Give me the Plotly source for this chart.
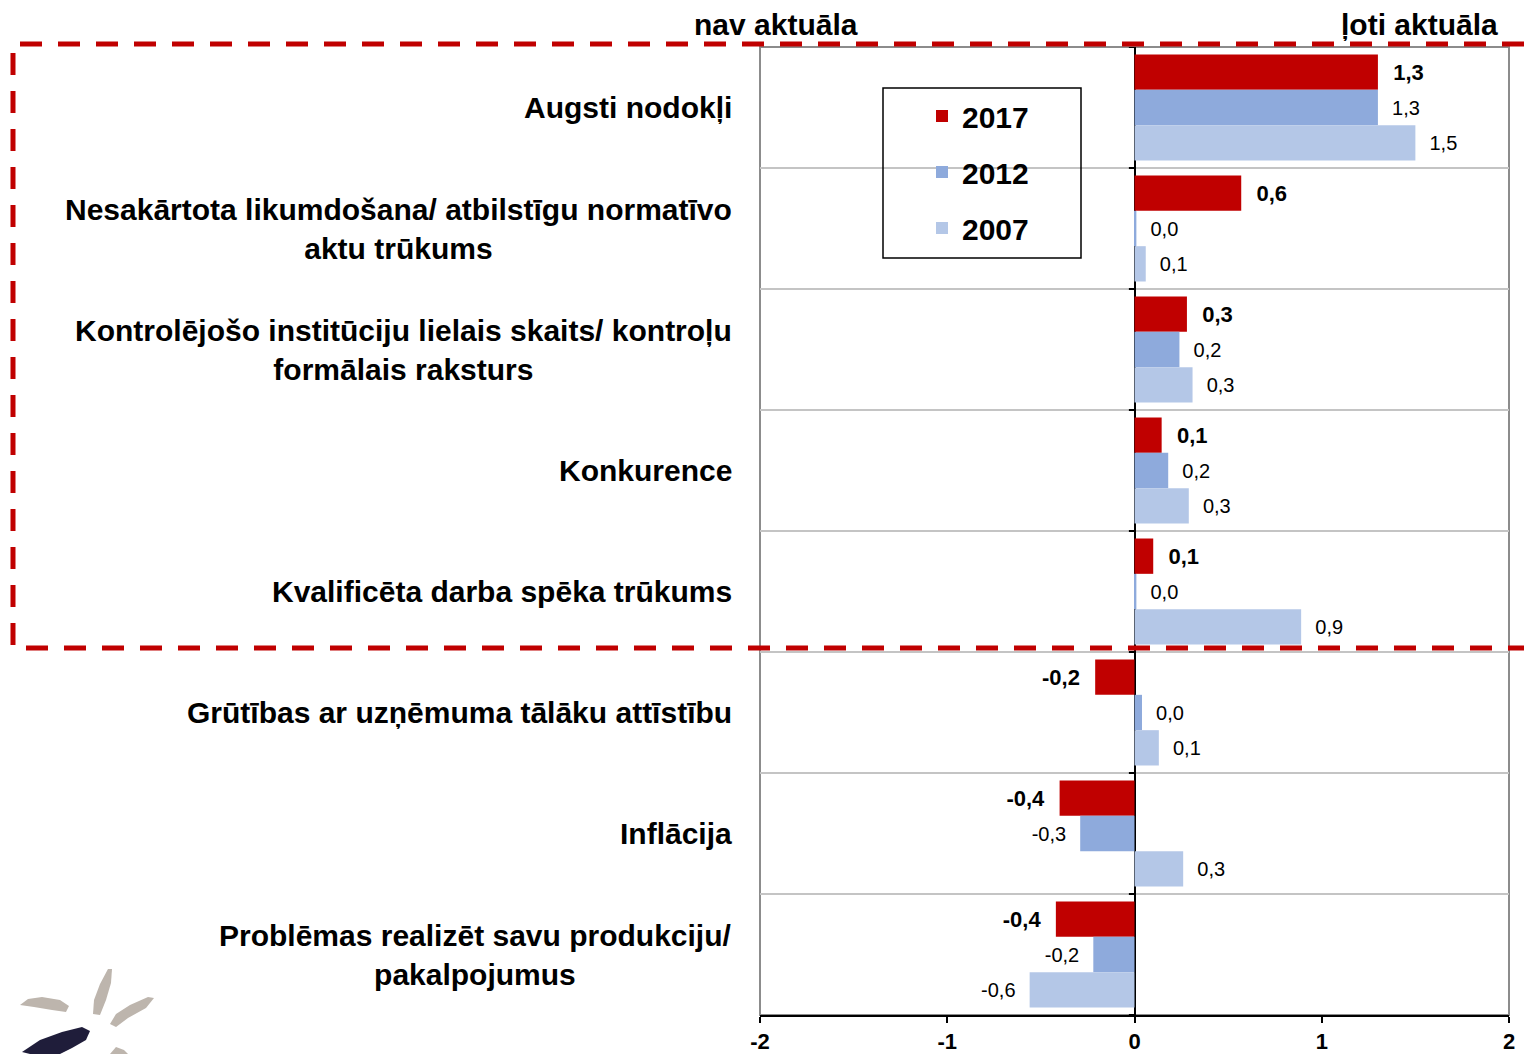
import plotly.graph_objects as go

categories = [
    "Augsti nodokļi",
    "Nesakārtota likumdošana/ atbilstīgu normatīvo<br>aktu trūkums",
    "Kontrolējošo institūciju lielais skaits/ kontroļu<br>formālais raksturs",
    "Konkurence",
    "Kvalificēta darba spēka trūkums",
    "Grūtības ar uzņēmuma tālāku attīstību",
    "Inflācija",
    "Problēmas realizēt savu produkciju/<br>pakalpojumus",
]
years = ["2017", "2012", "2007"]
v2017 = [1.30, 0.57, 0.28, 0.145, 0.10, -0.21, -0.40, -0.42]
v2012 = [1.30, 0.01, 0.24, 0.18, 0.01, 0.04, -0.29, -0.22]
v2007 = [1.50, 0.06, 0.31, 0.29, 0.89, 0.13, 0.26, -0.56]
x_ticks = [-2, -1, 0, 1, 2]
left_label = "nav aktuāla"
right_label = "ļoti aktuāla"

colors = ["#c00000", "#8eaadc", "#b4c7e7"]
FONT = "Liberation Sans, Arial, sans-serif"

W, H = 1525, 1054
L, R, T, B = 760, 16, 47, 39
PW, PH = W - L - R, H - T - B


def px(x):
    return (x - L) / PW


def py(y):
    return (H - B - y) / PH


def path(points):
    s = ""
    for i, (x, y) in enumerate(points):
        s += ("M" if i == 0 else "L") + f"{px(x):.5f},{py(y):.5f} "
    return s + "Z"


ypos = list(range(len(categories)))
NB = "\u00a0\u00a0"

fig = go.Figure()
for name, vals, col in zip(years, [v2017, v2012, v2007], colors):
    bold = name == "2017"
    tmpl = []
    for v in vals:
        t = "%{x:.1f}"
        if bold:
            t = "<b>" + t + "</b>"
        tmpl.append(NB + t if v >= 0 else t + NB)
    fig.add_trace(go.Bar(
        x=vals, y=ypos, orientation="h", name=name, legendgroup=name,
        marker=dict(color=col, line=dict(width=0)),
        texttemplate=tmpl, textposition="outside", constraintext="none",
        cliponaxis=False,
        textfont=dict(family=FONT, size=22 if bold else 20, color="black"),
    ))

shapes = []
# plot frame (gray)
shapes.append(dict(type="rect", xref="paper", yref="paper", x0=0, x1=1, y0=0, y1=1,
                   line=dict(color="#8c8c8c", width=2), layer="below"))
# small ticks on zero line at category boundaries
for i in range(len(categories) + 1):
    shapes.append(dict(type="line", xref="x", yref="y", x0=-0.03, x1=0,
                       y0=i - 0.5, y1=i - 0.5, line=dict(color="black", width=2)))
# red dashed frame
shapes.append(dict(type="path", xref="paper", yref="paper",
                   path=f"M{px(1524):.5f},{py(44):.5f} L{px(13):.5f},{py(44):.5f} "
                        f"L{px(13):.5f},{py(648):.5f} L{px(1524):.5f},{py(648):.5f}",
                   line=dict(color="#c00000", width=5, dash="22px,16px")))
# legend box
shapes.append(dict(type="rect", xref="paper", yref="paper",
                   x0=px(883), x1=px(1081), y0=py(258), y1=py(88),
                   line=dict(color="black", width=1.5)))
# logo strokes
gray = "#bdb5ad"
navy = "#1f1d3a"
logo = [
    ([(20, 1005), (28, 999), (42, 997), (60, 1000), (69, 1006), (66, 1012), (52, 1010), (34, 1007)], gray),
    ([(93, 1014), (94, 1000), (100, 984), (108, 969), (112, 969), (111, 983), (106, 1000), (100, 1015)], gray),
    ([(110, 1024), (116, 1014), (130, 1005), (148, 997), (154, 998), (146, 1008), (128, 1018), (116, 1027)], gray),
    ([(22, 1052), (40, 1040), (62, 1032), (82, 1027), (90, 1031), (86, 1040), (72, 1048), (60, 1054), (44, 1054), (30, 1054)], navy),
    ([(110, 1054), (116, 1047), (124, 1050), (128, 1054)], gray),
]
for pts, c in logo:
    shapes.append(dict(type="path", xref="paper", yref="paper", path=path(pts),
                       fillcolor=c, line=dict(width=0)))

annotations = []
for i, c in enumerate(categories):
    annotations.append(dict(text=f"<b>{c}</b>", xref="paper", yref="y", x=0, y=i,
                            xanchor="right", yanchor="middle", align="center",
                            xshift=-26, showarrow=False,
                            font=dict(family=FONT, size=30, color="black")))
annotations.append(dict(text=f"<b>{left_label}</b>", xref="paper", yref="paper",
                        x=px(692), y=py(24), xanchor="left", yanchor="middle",
                        showarrow=False, font=dict(family=FONT, size=30, color="black")))
annotations.append(dict(text=f"<b>{right_label}</b>", xref="paper", yref="paper",
                        x=px(1500), y=py(24), xanchor="right", yanchor="middle",
                        showarrow=False, font=dict(family=FONT, size=30, color="black")))

fig.update_layout(
    width=W, height=H,
    margin=dict(l=L, r=R, t=T, b=B, pad=0, autoexpand=False),
    paper_bgcolor="white", plot_bgcolor="white",
    barmode="group", bargap=0.124, bargroupgap=0,
    separators=",.",
    font=dict(family=FONT, color="black"),
    showlegend=True,
    legend=dict(x=px(922), y=py(90), xanchor="left", yanchor="top",
                bgcolor="rgba(0,0,0,0)", borderwidth=0, tracegroupgap=14,
                traceorder="grouped",
                font=dict(family=FONT, size=30, color="black", weight="bold")),
    xaxis=dict(range=[-2, 2], tickvals=x_ticks, ticktext=[f"<b>{t}</b>" for t in x_ticks],
               showgrid=False, zeroline=True, zerolinecolor="black", zerolinewidth=2,
               showline=True, linecolor="black", linewidth=2, automargin=False,
               ticks="outside", ticklen=6, tickwidth=2, tickcolor="black",
               tickfont=dict(family=FONT, size=22, color="black"), fixedrange=True),
    yaxis=dict(range=[len(categories) - 0.5, -0.5], tickvals=[i + 0.5 for i in range(len(categories) - 1)],
               showticklabels=False, ticks="", showgrid=True, gridcolor="#c4c4c4", gridwidth=2,
               zeroline=False, showline=False, fixedrange=True, automargin=False),
    shapes=shapes, annotations=annotations,
)

fig.write_html("out.html", config={"displayModeBar": False},
               post_script="document.body.style.margin='0';document.body.style.overflow='hidden';")
